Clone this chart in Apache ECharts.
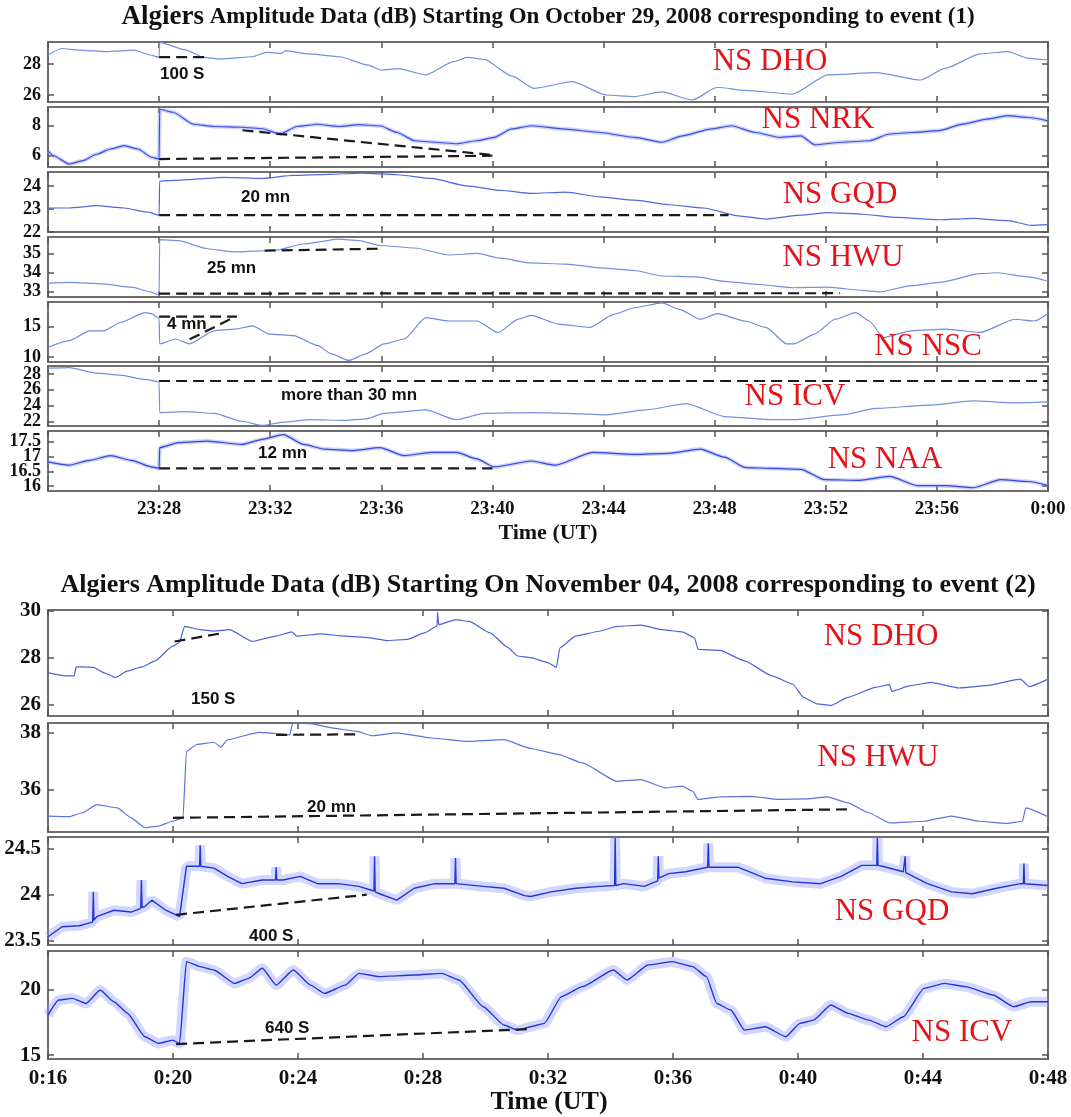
<!DOCTYPE html>
<html>
<head>
<meta charset="utf-8">
<script src="https://cdn.jsdelivr.net/npm/echarts@6/dist/echarts.min.js"></script>
<style>
html,body{margin:0;padding:0;background:#fff}
#chart{width:1071px;height:1117px}
</style>
</head>
<body>
<div id="chart"></div>
<script>
// ---- data: [minute, dB] ----
// event (1): minutes after 23:00 (60 = 0:00)
var dhoOct = [[24,28.58],[24.5,29.0],[25.1,28.9],[26.1,28.8],[27.1,28.9],[27.67,28.58],[28,28.43],[28.02,29.4],[28.97,28.9],[29.6,28.43],[30.2,28.32],[31.36,28.47],[31.86,28.75],[32.4,28.69],[32.56,28.86],[33.4,28.65],[34.5,28.47],[35.5,27.94],[36,27.6],[36.6,27.7],[37.6,27.3],[38.6,28.15],[39.1,28.43],[39.7,28.3],[40.7,27.23],[41.5,26.43],[42.88,26.86],[44.1,26.0],[45.1,25.9],[46.1,26.2],[47.2,25.68],[48.1,26.5],[49.1,26.3],[50.8,26.06],[52.08,27.3],[53.82,27.44],[55.4,26.97],[56.3,27.72],[57.56,28.65],[58.55,28.8],[59.3,28.37],[60,28.26]];
var nrkOct = [[24,6.33],[24.2,6.0],[24.76,5.45],[25.25,5.67],[25.75,6.1],[26.25,6.45],[26.74,6.67],[27.24,6.45],[27.73,5.9],[28,5.78],[28.02,9.1],[28.5,8.9],[29.24,8.1],[29.98,7.95],[30.98,7.9],[31.72,7.8],[32.35,7.45],[32.97,7.95],[33.7,8.1],[34.45,7.95],[35.2,8.07],[35.95,8.0],[36.57,7.55],[37.2,7.0],[37.94,6.9],[38.7,6.8],[39.44,7.0],[40.06,7.22],[40.68,7.78],[41.4,8.0],[42.63,7.78],[43.87,7.55],[45.12,7.22],[46.1,6.9],[46.85,7.33],[47.85,7.78],[48.6,8.0],[49.47,7.55],[50.34,7.22],[51.1,7.33],[51.6,6.73],[52.58,6.9],[53.57,7.0],[54.3,7.45],[55.08,7.55],[56.07,7.67],[56.94,8.11],[57.8,8.44],[58.55,8.67],[59.3,8.55],[60,8.33]];
var gqdOct = [[24,23.04],[24.76,23.04],[25.75,23.14],[26.74,23.04],[27.6,22.86],[28,22.73],[28.02,24.2],[29.1,24.27],[30.35,24.37],[31.72,24.32],[32.84,24.45],[34.1,24.5],[35.3,24.55],[36.57,24.48],[37.8,24.32],[39.07,24.0],[40.3,23.8],[41.4,23.67],[42.63,23.73],[43.87,23.52],[45.12,23.38],[46.36,23.18],[47.6,23.04],[48.85,22.7],[49.84,22.56],[51.1,22.73],[52.08,22.84],[53.33,22.77],[54.57,22.63],[56.07,22.53],[57.3,22.59],[58.55,22.49],[59.4,22.29],[60,22.32]];
var hwuOct = [[24,33.42],[24.76,33.47],[26,33.39],[27,33.22],[27.7,32.97],[28,32.8],[28.02,35.73],[28.7,35.68],[29.73,35.25],[30.73,35.08],[32.2,35.17],[33.2,35.5],[34.46,35.76],[35.2,35.68],[35.95,35.42],[37.2,35.29],[38.44,34.92],[39.44,35.0],[40.3,34.75],[41.35,34.5],[42.63,34.44],[43.87,34.24],[45.12,34.1],[46.1,33.81],[47.35,33.76],[48.35,33.53],[49.6,33.36],[50.85,33.19],[52.08,33.22],[53.33,33.05],[53.95,32.97],[55.08,33.3],[56.07,33.47],[57.56,33.93],[58.18,33.98],[59.3,33.76],[60,33.53]];
var nscOct = [[24,11.6],[24.76,12.7],[25.5,14.3],[26,14.3],[26.6,15.65],[27.5,17.26],[27.73,17.1],[28,16.34],[28.02,12.15],[28.6,12.96],[29.1,12.15],[29.98,14.3],[30.73,14.57],[31.36,15.1],[31.97,13.76],[32.84,13.5],[33.7,11.9],[34.2,10.54],[34.83,9.46],[35.45,10.54],[36.1,12.15],[36.82,12.96],[37.6,16.45],[38.44,15.9],[39.44,15.9],[40.2,14.0],[40.93,16.2],[41.4,16.8],[42.38,15.4],[43.5,14.84],[44.37,16.99],[45.12,18.06],[46.1,18.87],[46.73,17.8],[47.48,16.18],[48.1,17.1],[49.1,15.9],[49.84,14.84],[50.6,12.15],[50.85,12.15],[51.6,13.76],[52.33,16.18],[53.08,17.26],[53.57,15.9],[54.07,13.2],[55.08,14.3],[56.3,14.57],[57.56,14.03],[58.8,16.18],[59.5,15.9],[60,17.1]];
var icvOct = [[24,28.73],[24.76,28.8],[25.75,28.1],[26.6,27.84],[27.5,27.3],[28,27.0],[28.02,23.1],[28.97,23.22],[29.98,23.0],[30.98,22.0],[31.72,21.47],[32.47,21.9],[33.46,22.2],[34.7,22.12],[35.45,22.3],[36.1,23.0],[37.6,23.43],[38.7,22.2],[39.7,23.0],[41.4,23.1],[42.63,23.0],[44.1,22.8],[45.5,23.43],[46.98,24.24],[48.35,22.6],[50.1,22.2],[50.85,22.2],[52.58,22.8],[53.82,23.63],[55.7,24.04],[57.3,24.57],[58.8,24.33],[60,24.45]];
var naaOct = [[24,16.82],[24.76,16.71],[25.5,16.87],[26.25,17.03],[27,16.87],[27.73,16.65],[28,16.6],[28.02,17.3],[28.7,17.47],[29.73,17.52],[30.98,17.41],[31.72,17.58],[32.47,17.74],[33.2,17.41],[33.95,17.25],[34.95,17.2],[35.95,17.3],[36.82,17.03],[37.8,17.14],[38.7,17.14],[39.44,16.92],[40.06,16.65],[41.4,16.85],[42.26,16.71],[43.62,17.14],[45.12,17.07],[46.36,17.11],[47.48,17.25],[48.35,16.98],[49.1,16.63],[50.1,16.6],[51.1,16.57],[51.96,16.22],[53.2,16.2],[54.3,16.33],[55.3,16.02],[56.3,16.02],[57.3,15.95],[58.3,16.22],[59.3,16.16],[60,16.02]];

// event (2): minutes after 0:00
var dhoNov = [[16,27.36],[16.56,27.22],[16.84,27.22],[16.9,27.6],[17.1,27.6],[17.45,27.58],[17.78,27.36],[18.16,27.15],[18.55,27.43],[19,27.6],[19.43,27.86],[19.99,28.49],[20.2,28.64],[20.37,29.34],[20.87,29.2],[21.31,29.13],[21.81,29.2],[22.53,28.7],[23.3,28.92],[23.8,29.1],[23.96,28.92],[24.73,29.02],[25.51,28.92],[26.28,28.85],[26.83,28.73],[27.5,28.78],[28.05,29.06],[28.45,29.35],[28.47,29.95],[28.5,29.41],[29.04,29.63],[29.48,29.55],[30.15,29.06],[30.7,28.45],[31.03,28.07],[31.44,28.0],[32,27.79],[32.27,27.58],[32.38,28.42],[32.88,28.92],[33.65,29.13],[34.2,29.34],[34.97,29.39],[35.64,29.2],[36.3,29.1],[36.69,28.85],[36.8,28.35],[37.51,28.31],[38.29,27.86],[39.17,27.22],[39.83,26.87],[40.17,26.3],[40.61,26.02],[41.05,25.95],[41.6,26.3],[42.48,26.73],[42.93,26.84],[43,26.56],[43.59,26.8],[44.25,26.94],[45.14,26.7],[46.02,26.8],[47.12,27.08],[47.4,26.76],[48,27.08]];
var hwuNov = [[16,35.06],[16.67,35.04],[17.1,35.18],[17.56,35.47],[18.22,35.35],[18.66,35.0],[19.1,34.65],[19.54,34.71],[19.99,34.88],[20.32,35.0],[20.43,37.35],[20.76,37.59],[21.31,37.67],[21.53,37.5],[21.75,37.76],[22.75,38.02],[23.3,37.98],[23.74,37.94],[23.83,38.35],[24.4,38.33],[25.07,38.18],[25.84,38.06],[26.39,37.9],[27.16,38.0],[28.27,37.82],[29.37,37.7],[30.59,37.76],[31.45,37.45],[32.32,37.24],[33.1,36.94],[34.2,36.29],[34.97,36.35],[35.75,36.06],[36.3,36.12],[36.63,35.94],[36.8,35.65],[37.51,35.74],[38.51,35.76],[39.39,35.65],[40.28,35.67],[40.94,35.74],[41.6,35.53],[42.26,35.18],[42.93,34.82],[44.03,34.88],[44.91,35.06],[45.8,34.88],[46.68,34.8],[47.18,34.88],[47.29,35.35],[48,35.04]];
var gqdNov = [[16,23.54],[16.45,23.65],[17,23.66],[17.43,23.7],[17.45,24.03],[17.47,23.72],[17.56,23.76],[18.11,23.83],[18.66,23.81],[18.97,23.85],[18.99,24.16],[19.01,23.86],[19.1,23.87],[19.32,23.94],[19.77,23.83],[20.21,23.76],[20.43,24.31],[20.85,24.31],[20.87,24.54],[20.89,24.31],[21.31,24.29],[21.75,24.2],[22.2,24.12],[22.86,24.16],[23.28,24.16],[23.3,24.3],[23.32,24.16],[23.52,24.16],[24.07,24.2],[24.62,24.12],[25.29,24.12],[25.95,24.09],[26.43,24.04],[26.45,24.42],[26.47,24.03],[26.61,24.01],[27.16,23.94],[27.72,24.07],[28.38,24.12],[29.02,24.12],[29.04,24.4],[29.06,24.12],[29.93,24.09],[30.59,24.07],[31.25,23.99],[31.44,23.98],[32.1,24.03],[32.88,24.07],[33.65,24.09],[34.13,24.1],[34.15,24.62],[34.17,24.1],[34.42,24.12],[35.08,24.09],[35.51,24.15],[35.53,24.42],[35.55,24.18],[35.86,24.23],[36.41,24.25],[37.11,24.3],[37.13,24.56],[37.15,24.3],[37.18,24.32],[38.07,24.3],[38.95,24.18],[39.83,24.14],[40.72,24.12],[41.38,24.2],[42.04,24.32],[42.52,24.32],[42.54,24.62],[42.56,24.32],[42.7,24.31],[43.37,24.25],[43.41,24.26],[43.43,24.42],[43.45,24.24],[44.14,24.12],[44.91,24.03],[45.58,24.01],[46.35,24.07],[47.12,24.12],[47.21,24.12],[47.23,24.34],[47.25,24.12],[48,24.1]];
var icvNov = [[16,18.08],[16.34,19.23],[16.78,19.36],[17.22,18.97],[17.67,20.0],[18.11,19.1],[18.55,18.2],[19.1,16.41],[19.54,15.9],[19.99,16.15],[20.21,15.9],[20.43,22.18],[20.87,21.8],[21.31,21.54],[21.97,20.51],[22.42,20.9],[22.86,21.67],[23.3,20.38],[23.85,21.54],[24.4,20.38],[24.85,19.74],[25.51,20.38],[25.95,21.28],[26.61,21.03],[27.72,21.15],[28.6,21.28],[29.15,20.77],[29.93,18.72],[30.59,17.31],[31.03,16.92],[31.45,17.18],[31.88,17.44],[32.43,19.49],[33.1,20.26],[34.09,21.54],[34.53,20.77],[35.2,21.92],[35.97,22.18],[36.63,21.8],[37.07,21.03],[37.4,18.97],[37.85,18.46],[38.29,16.92],[38.95,17.18],[39.61,16.41],[40.06,17.44],[40.5,17.69],[41.05,18.85],[41.6,18.21],[42.26,17.69],[42.82,17.18],[43.37,17.95],[44.03,20.13],[44.69,20.51],[45.36,20.26],[46.24,19.62],[46.9,18.72],[47.46,19.1],[48,19.1]];

// dashed duration markers [minute, dB]
var dashOct = [
  [[28,28.45],[29.67,28.45]],
  [[28,5.78],[40,6.0]],
  [[31,7.7],[40,6.05]],
  [[28,22.73],[48.5,22.73]],
  [[28,32.88],[52.5,32.9]],
  [[31.8,35.15],[35.9,35.25]],
  [[28,16.6],[30.8,16.6]],
  [[29.1,12.9],[30.7,16.5]],
  [[28,27.1],[60,27.1]],
  [[28,16.6],[40,16.6]]
];
var dashOctPanel = [0,1,1,2,3,3,4,4,5,6];
var dashNov = [
  [[20.05,28.69],[21.5,29.03]],
  [[20.0,35.0],[41.6,35.3]],
  [[23.3,37.93],[25.9,37.95]],
  [[20.1,23.78],[26.2,24.0]],
  [[20.1,15.85],[31.4,17.0]]
];
var dashNovPanel = [0,1,1,2,3];

// ticks / labels
var yTicksOct = [[26,28],[6,8],[22,23,24],[33,34,35],[10,15],[22,24,26,28],[16,16.5,17,17.5]];
var yRangeOct = [[25.55,29.42],[5.25,9.25],[22,24.6],[32.7,35.87],[9.2,19],[21.4,29],[15.84,17.86]];
var yTicksNov = [[26,28,30],[36,38],[23.5,24,24.5],[15,20]];
var yRangeNov = [[25.5,30.04],[34.5,38.35],[23.45,24.63],[14.7,23]];
var stationsOct = ['NS DHO','NS NRK','NS GQD','NS HWU','NS NSC','NS ICV','NS NAA'];
var stationsNov = ['NS DHO','NS HWU','NS GQD','NS ICV'];
var seriesOct = [dhoOct,nrkOct,gqdOct,hwuOct,nscOct,icvOct,naaOct];
var seriesNov = [dhoNov,hwuNov,gqdNov,icvNov];

var SERIF = '"Liberation Serif","DejaVu Serif",serif';
var SANS = '"Liberation Sans",Arial,sans-serif';

var chart = echarts.init(document.getElementById('chart'));
var grids = [], xAxes = [], yAxes = [], series = [], graphics = [];
var panelX = [], panelY = [];

function addPanel(top, height, xmin, xmax, fmt, showX, xFont, yr, yt, yFont) {
  var gi = grids.length;
  grids.push({left:48, right:23, top:top, height:height, show:true, borderColor:'#6e6e6e', borderWidth:2, backgroundColor:'transparent'});
  var tick = {show:true, inside:true, length:6, lineStyle:{color:'#555', width:1.5}};
  panelX.push(xAxes.length);
  xAxes.push({type:'value', gridIndex:gi, position:'bottom', min:xmin, max:xmax, interval:4,
    axisLine:{show:false}, axisTick:tick, splitLine:{show:false},
    axisLabel:{show:showX, formatter:fmt, margin:9, color:'#111', fontFamily:SERIF, fontWeight:'bold', fontSize:xFont, showMinLabel:true, showMaxLabel:true}});
  xAxes.push({type:'value', gridIndex:gi, position:'top', min:xmin, max:xmax, interval:4,
    axisLine:{show:false}, axisTick:tick, splitLine:{show:false}, axisLabel:{show:false}});
  // labels split over two stacked left axes so that tightly packed ticks all keep their label
  var evenT = yt.filter(function (v, j) { return j % 2 === 0; });
  var oddT = yt.filter(function (v, j) { return j % 2 === 1; });
  var lab = {margin:7, color:'#111', fontFamily:SERIF, fontWeight:'bold', fontSize:yFont, showMinLabel:true, showMaxLabel:true};
  panelY.push(yAxes.length);
  yAxes.push({type:'value', gridIndex:gi, position:'left', min:yr[0], max:yr[1],
    axisLine:{show:false}, splitLine:{show:false},
    axisTick:{show:true, inside:true, length:6, lineStyle:{color:'#555', width:1.5}, customValues:yt},
    axisLabel:Object.assign({customValues:evenT}, lab)});
  if (oddT.length) {
    yAxes.push({type:'value', gridIndex:gi, position:'left', offset:0, min:yr[0], max:yr[1],
      axisLine:{show:false}, splitLine:{show:false}, axisTick:{show:false},
      axisLabel:Object.assign({customValues:oddT}, lab)});
  }
  yAxes.push({type:'value', gridIndex:gi, position:'right', min:yr[0], max:yr[1],
    axisLine:{show:false}, splitLine:{show:false},
    axisTick:{show:true, inside:true, length:6, lineStyle:{color:'#555', width:1.5}, customValues:yt},
    axisLabel:{show:false}});
  return gi;
}

function addLine(gi, data, color, width, opacity, smooth) {
  series.push({type:'line', xAxisIndex:panelX[gi], yAxisIndex:panelY[gi], data:data, symbol:'none', silent:true,
    smooth:smooth || false, smoothMonotone:'x',
    lineStyle:{color:color, width:width, opacity:opacity == null ? 1 : opacity}, clip:true});
}
function addDash(gi, data) {
  series.push({type:'line', xAxisIndex:panelX[gi], yAxisIndex:panelY[gi], data:data, symbol:'none', silent:true, z:5,
    lineStyle:{color:'#1a1a1a', width:2.2, type:[11,6]}});
}

// event (1) panels
var octTops = [42,107,172,237,302,366,431];
var octFmt = function (v) { return v <= 24 ? '' : (v >= 60 ? '0:00' : '23:' + v); };
var octIdx = [];
for (var i = 0; i < 7; i++) {
  octIdx.push(addPanel(octTops[i], 60, 24, 60, octFmt, i === 6, 19, yRangeOct[i], yTicksOct[i], 18));
}
var octColors = ['#7390dc','#3c50e2','#4f68dc','#7390dc','#6e8ada','#7390dc','#3346e0'];
for (var i = 0; i < 7; i++) {
  if (i === 1 || i === 6) addLine(octIdx[i], seriesOct[i], '#8d9cf0', 4, 0.45, 0.2);
  addLine(octIdx[i], seriesOct[i], octColors[i], 1.2, 1, 0.2);
}
for (var k = 0; k < dashOct.length; k++) addDash(octIdx[dashOctPanel[k]], dashOct[k]);

// event (2) panels
var novTops = [610,723,837,951];
var novHeights = [106,109,108,108];
var novFmt = function (v) { return '0:' + v; };
var novIdx = [];
for (var i = 0; i < 4; i++) {
  novIdx.push(addPanel(novTops[i], novHeights[i], 16, 48, novFmt, i === 3, 21, yRangeNov[i], yTicksNov[i], 21));
}
addLine(novIdx[0], seriesNov[0], '#4a63dc', 1.2, 1, 0.15);
addLine(novIdx[1], seriesNov[1], '#5b74dc', 1.2, 1, 0.15);
addLine(novIdx[2], seriesNov[2], '#8f9cff', 10, 0.4);
addLine(novIdx[2], seriesNov[2], '#2434d8', 1.4);
addLine(novIdx[3], seriesNov[3], '#8f9cff', 10, 0.4, 0.15);
addLine(novIdx[3], seriesNov[3], '#2434d8', 1.4, 1, 0.15);
for (var k = 0; k < dashNov.length; k++) addDash(novIdx[dashNovPanel[k]], dashNov[k]);

// texts
function txt(x, y, s, font, size, color, weight, align) {
  graphics.push({type:'text', x:x, y:y, z:10, style:{text:s, fill:color, font:(weight||'normal') + ' ' + size + 'px ' + font, textAlign:align||'left', textVerticalAlign:'middle'}});
}
// station names
var octStPos = [[770,62],[818,120],[840,195],[843,258],[928,347],[795,397],[885,460]];
for (var i = 0; i < 7; i++) txt(octStPos[i][0], octStPos[i][1], stationsOct[i], SERIF, 31, '#e3141b', 'normal', 'center');
var novStPos = [[881,637],[878,758],[892,912],[962,1033]];
for (var i = 0; i < 4; i++) txt(novStPos[i][0], novStPos[i][1], stationsNov[i], SERIF, 31, '#e3141b', 'normal', 'center');
// durations
var notes = [['100 S',160,74],['20 mn',241,197],['25 mn',207,268],['4 mn',167,324],['more than 30 mn',281,395],['12 mn',258,453],
             ['150 S',191,699],['20 mn',307,807],['400 S',249,936],['640 S',265,1028]];
notes.forEach(function (n) { txt(n[1], n[2], n[0], SANS, 17, '#111', 'bold', 'left'); });
// titles and axis names
graphics.push({type:'text', x:548, y:17, z:10, style:{text:'{a|Algiers} Amplitude Data (dB) Starting On October 29, 2008 corresponding to event (1)',
  textAlign:'center', textVerticalAlign:'middle', fill:'#111', font:'bold 23px ' + SERIF,
  rich:{a:{font:'bold 27px ' + SERIF, fill:'#111'}}}});
graphics.push({type:'text', x:548, y:585, z:10, style:{text:'Algiers Amplitude Data (dB) Starting On November 04, 2008 corresponding to event (2)',
  textAlign:'center', textVerticalAlign:'middle', fill:'#111', font:'bold 26px ' + SERIF}});
txt(548, 533, 'Time (UT)', SERIF, 22, '#111', 'bold', 'center');
txt(549, 1102, 'Time (UT)', SERIF, 26, '#111', 'bold', 'center');

chart.setOption({
  animation:false,
  backgroundColor:'#fff',
  grid:grids,
  xAxis:xAxes,
  yAxis:yAxes,
  series:series,
  graphic:graphics
});
</script>
</body>
</html>
